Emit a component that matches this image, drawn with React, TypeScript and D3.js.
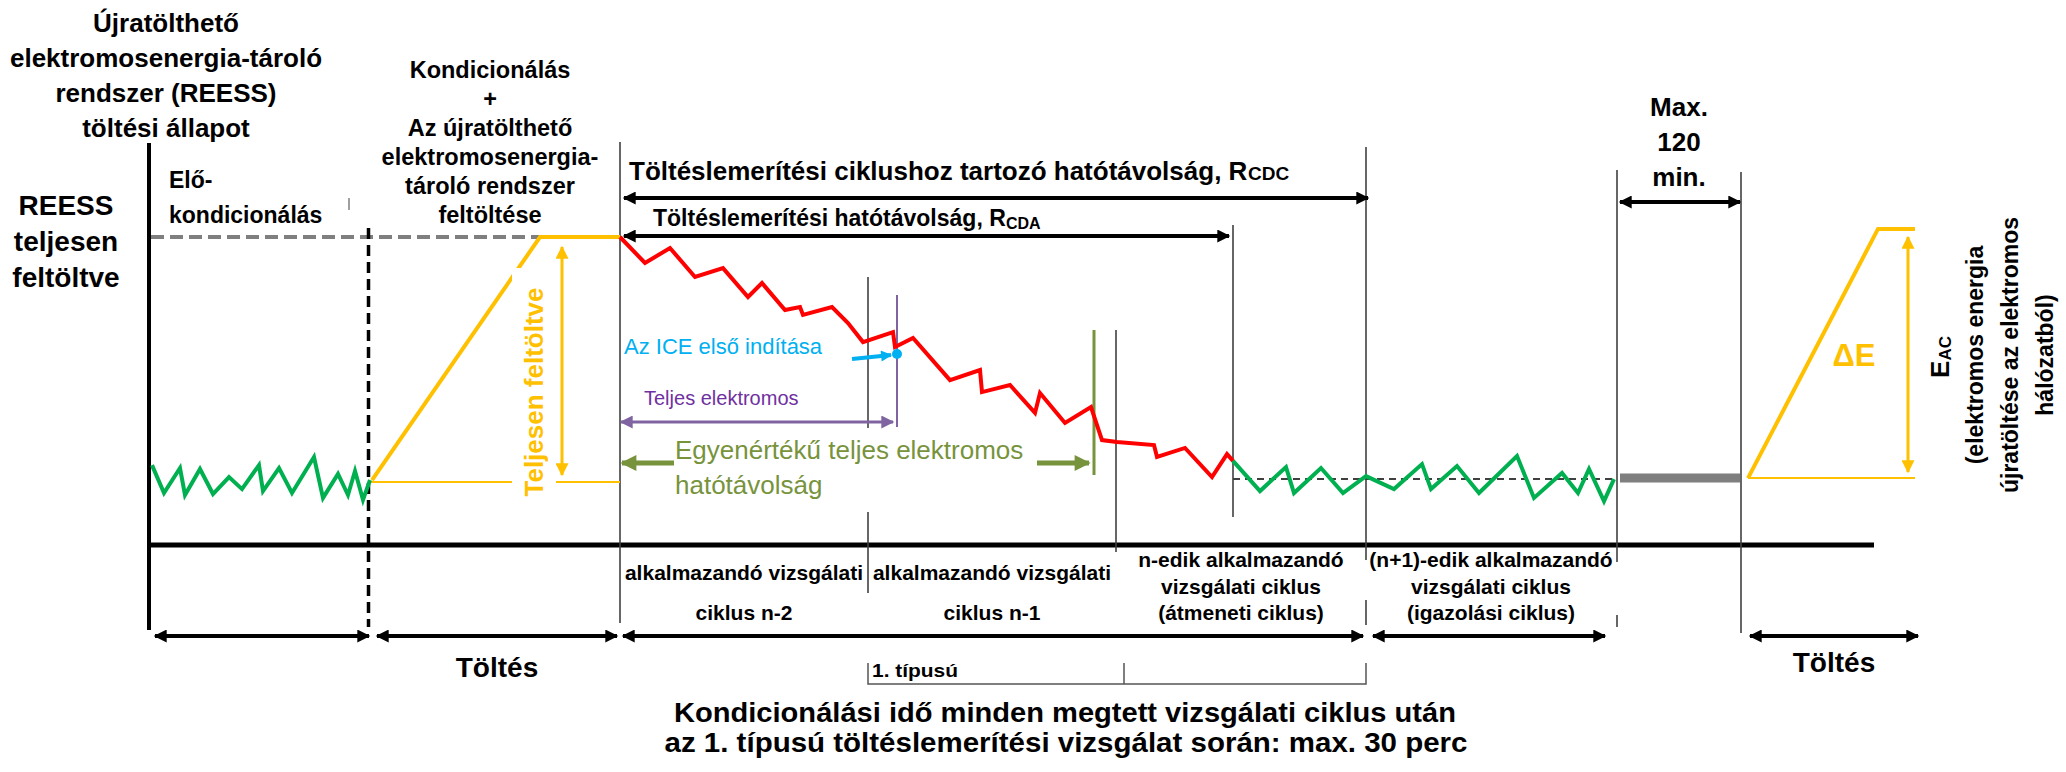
import React from "react";
import * as d3 from "d3";

const W = 2066;
const H = 772;
const FONT = "'Liberation Sans', Arial, Helvetica, sans-serif";

// ---- data: schematic time (x) and state of charge in % (y) ----
const greenPre: [number, number][] = [
  [152, 6.9], [164, -4.5], [180, 5.7], [185, -5.3], [200, 5.3], [213, -4.9], [229, 2.0], [242, -2.9],
  [259, 6.9], [263, -3.7], [279, 5.7], [292, -4.5], [314, 10.2], [323, -6.5], [338, 3.3], [348, -5.3],
  [355, 4.5], [363, -7.3], [370, 0.8],
];
const redCD: [number, number][] = [
  [620, 100], [645, 89.4], [670, 95.5], [695, 83.7], [723, 87.3], [748, 75.5], [762, 81.2], [785, 70.2],
  [800, 71.4], [803, 68.2], [832, 71.4], [848, 64.9], [863, 57.1], [893, 61.2], [895, 55.1], [913, 58.8],
  [950, 41.6], [980, 45.7], [982, 36.7], [1010, 39.6], [1035, 28.2], [1040, 36.3], [1065, 24.1],
  [1091, 30.6], [1102, 17.1], [1117, 16.3], [1154, 15.1], [1157, 10.2], [1185, 13.9], [1212, 2.0],
  [1227, 11.4], [1233, 8.6],
];
const greenCS: [number, number][] = [
  [1233, 8.6], [1260, -3.7], [1286, 6.1], [1294, -4.5], [1321, 5.7], [1343, -4.5], [1366, 2.4],
  [1394, -2.9], [1422, 7.3], [1431, -2.9], [1457, 6.5], [1479, -4.5], [1517, 10.6], [1534, -6.5],
  [1562, 3.7], [1578, -4.5], [1589, 5.3], [1604, -7.8], [1614, 1.2],
];
const chargeLeft: [number, number][] = [[372, 0.8], [540, 100], [620, 100]];
const chargeRight: [number, number][] = [[1748, 1.6], [1878, 103.3], [1915, 103.3]];

// ---- texts ----
const titleLines = ["Újratölthető", "elektromosenergia-tároló", "rendszer (REESS)", "töltési állapot"];
const reessLines = ["REESS", "teljesen", "feltöltve"];
const preLines = ["Elő-", "kondicionálás"];
const condLines = ["Kondicionálás", "+", "Az újratölthető", "elektromosenergia-", "tároló rendszer", "feltöltése"];
const maxLines = ["Max.", "120", "min."];
const eacLines = ["(elektromos energia", "újratöltése az elektromos", "hálózatból)"];
const cycleCols = [
  { lines: ["alkalmazandó vizsgálati", "ciklus n-2"] },
  { lines: ["alkalmazandó vizsgálati", "ciklus n-1"] },
  { lines: ["n-edik alkalmazandó", "vizsgálati ciklus", "(átmeneti ciklus)"] },
  { lines: ["(n+1)-edik alkalmazandó", "vizsgálati ciklus", "(igazolási ciklus)"] },
];
const bottomLines = [
  "Kondicionálási idő minden megtett vizsgálati ciklus után",
  "az 1. típusú töltéslemerítési vizsgálat során: max. 30 perc",
];

const C = {
  red: "#FF0000",
  green: "#00B050",
  orange: "#FFC000",
  gray: "#7F7F7F",
  line: "#404040",
  purple: "#8064A2",
  purpleText: "#7030A0",
  olive: "#77933C",
  cyan: "#00B0F0",
};

const x = d3.scaleLinear().domain([0, W]).range([0, W]);
const y = d3.scaleLinear().domain([0, 100]).range([482, 237]);
const line = d3
  .line<[number, number]>()
  .x((d) => x(d[0]))
  .y((d) => y(d[1]))
  .curve(d3.curveLinear);

function Marker({ id, color, w, h }: { id: string; color: string; w: number; h: number }) {
  return (
    <marker
      id={id}
      viewBox="0 0 10 10"
      refX={9}
      refY={5}
      markerUnits="userSpaceOnUse"
      markerWidth={w}
      markerHeight={h}
      orient="auto-start-reverse"
    >
      <path d="M0,0 L10,5 L0,10 z" fill={color} />
    </marker>
  );
}

function Arrow({
  x1, y1, x2, y2, color = "#000", width = 4, marker = "ab", start = true, end = true,
}: any) {
  return (
    <line
      x1={x1}
      y1={y1}
      x2={x2}
      y2={y2}
      stroke={color}
      strokeWidth={width}
      markerStart={start ? `url(#${marker})` : undefined}
      markerEnd={end ? `url(#${marker})` : undefined}
    />
  );
}

function VLine({ xv, y1, y2, color = C.line, width = 1.6 }: any) {
  return <line x1={xv} x2={xv} y1={y1} y2={y2} stroke={color} strokeWidth={width} />;
}

function Lines({
  lines, cx, y0, dy, size, weight = "bold", fill = "#000", anchor = "middle",
}: any) {
  return (
    <g>
      {lines.map((t: string, i: number) => (
        <text
          key={i}
          x={cx}
          y={y0 + i * dy}
          fontSize={size}
          fontWeight={weight}
          fill={fill}
          textAnchor={anchor}
          fontFamily={FONT}
        >
          {t}
        </text>
      ))}
    </g>
  );
}

export default function App() {
  return (
    <svg
      width={W}
      height={H}
      viewBox={`0 0 ${W} ${H}`}
      style={{ position: "absolute", left: 0, top: 0, background: "#fff" }}
      fontFamily={FONT}
    >
      <defs>
        <Marker id="ab" color="#000" w={16} h={13} />
        <Marker id="ao" color={C.orange} w={14} h={13} />
        <Marker id="ap" color={C.purple} w={16} h={13} />
        <Marker id="ag" color={C.olive} w={18} h={16} />
        <Marker id="ac" color={C.cyan} w={12} h={11} />
      </defs>
      <rect width={W} height={H} fill="#fff" />

      {/* Top-left title */}
      <Lines lines={titleLines} cx={166} y0={32} dy={35} size={26} />
      <Lines lines={reessLines} cx={66} y0={215} dy={36} size={28} />
      <Lines lines={preLines} cx={169} y0={188} dy={35} size={23} anchor="start" />
      <Lines lines={condLines} cx={490} y0={78} dy={29} size={23.5} />
      <Lines lines={maxLines} cx={1679} y0={116} dy={35} size={26} />

      {/* axes */}
      <line x1={149} x2={149} y1={143} y2={630} stroke="#000" strokeWidth={4} />
      <line x1={147} x2={1874} y1={545} y2={545} stroke="#000" strokeWidth={5} />
      <line x1={349} x2={349} y1={198} y2={210} stroke={C.gray} strokeWidth={1.5} />

      {/* full charge reference */}
      <line x1={x(151)} x2={x(540)} y1={y(100)} y2={y(100)} stroke={C.gray} strokeWidth={4} strokeDasharray="13 6" />
      <line x1={368.5} x2={368.5} y1={228} y2={627} stroke="#000" strokeWidth={3.5} strokeDasharray="11 6" />

      {/* vertical separators */}
      <VLine xv={620} y1={142} y2={623} />
      <VLine xv={868} y1={277} y2={428} />
      <VLine xv={868} y1={512} y2={593} />
      <VLine xv={1116} y1={330} y2={552} />
      <VLine xv={1233} y1={225} y2={517} />
      <VLine xv={1366} y1={147} y2={560} />
      <VLine xv={1366} y1={600} y2={625} />
      <VLine xv={1617} y1={170} y2={562} />
      <VLine xv={1617} y1={615} y2={627} />
      <VLine xv={1741} y1={172} y2={633} />
      <VLine xv={897} y1={295} y2={427} color={C.purple} width={2} />
      <VLine xv={1094} y1={330} y2={475} color={C.olive} width={3} />

      {/* charge profile curves */}
      <line x1={x(370)} x2={x(620)} y1={y(0)} y2={y(0)} stroke={C.orange} strokeWidth={2} />
      <path d={line(chargeLeft) || ""} fill="none" stroke={C.orange} strokeWidth={4} />
      <path d={line(greenPre) || ""} fill="none" stroke={C.green} strokeWidth={4} />
      <path d={line(redCD) || ""} fill="none" stroke={C.red} strokeWidth={4} />
      <line x1={x(1233)} x2={x(1614)} y1={y(1.2)} y2={y(1.2)} stroke="#404040" strokeWidth={2} strokeDasharray="7 5" />
      <path d={line(greenCS) || ""} fill="none" stroke={C.green} strokeWidth={4} />
      <line x1={x(1620)} x2={x(1740)} y1={y(1.6)} y2={y(1.6)} stroke={C.gray} strokeWidth={9} />
      <line x1={x(1748)} x2={x(1915)} y1={y(1.6)} y2={y(1.6)} stroke={C.orange} strokeWidth={2} />
      <path d={line(chargeRight) || ""} fill="none" stroke={C.orange} strokeWidth={4} />

      {/* orange "Teljesen feltöltve" */}
      <rect x={512} y={268} width={44} height={237} fill="#fff" />
      <Arrow x1={562} y1={247} x2={562} y2={475} color={C.orange} width={3} marker="ao" />
      <text
        transform="translate(534,392) rotate(-90)"
        textAnchor="middle"
        dominantBaseline="central"
        fontSize={26}
        fontWeight="bold"
        fill={C.orange}
      >
        Teljesen feltöltve
      </text>

      {/* right charge */}
      <Arrow x1={1908} y1={237} x2={1908} y2={472} color={C.orange} width={3} marker="ao" />
      <text x={1854} y={366} textAnchor="middle" fontSize={31} fontWeight="bold" fill={C.orange}>
        ΔE
      </text>
      <text transform="translate(1940,357) rotate(-90)" textAnchor="middle" dominantBaseline="central" fontSize={26} fontWeight="bold">
        E<tspan fontSize={17} dy={5}>AC</tspan>
      </text>
      {eacLines.map((t, i) => (
        <text
          key={i}
          transform={`translate(${1975 + i * 35},355) rotate(-90)`}
          textAnchor="middle"
          dominantBaseline="central"
          fontSize={23}
          fontWeight="bold"
        >
          {t}
        </text>
      ))}

      {/* range arrows and labels */}
      <text x={629} y={180} fontSize={26} fontWeight="bold">
        Töltéslemerítési ciklushoz tartozó hatótávolság, R
      </text>
      <text x={1248} y={180} fontSize={19} fontWeight="bold">CDC</text>
      <Arrow x1={624} y1={198} x2={1368} y2={198} />
      <text x={653} y={226} fontSize={23} fontWeight="bold">
        Töltéslemerítési hatótávolság, R
      </text>
      <text x={1006} y={229} fontSize={16} fontWeight="bold">CDA</text>
      <Arrow x1={624} y1={236} x2={1229} y2={236} />
      <Arrow x1={1620} y1={202} x2={1740} y2={202} />

      {/* ICE start */}
      <text x={624} y={354} fontSize={22} fill={C.cyan}>
        Az ICE első indítása
      </text>
      <Arrow x1={852} y1={359} x2={891} y2={355} color={C.cyan} width={4} marker="ac" start={false} />
      <circle cx={897} cy={354} r={5} fill={C.cyan} />

      {/* all electric */}
      <text x={644} y={405} fontSize={20} fill={C.purpleText}>
        Teljes elektromos
      </text>
      <Arrow x1={621} y1={422} x2={893} y2={422} color={C.purple} width={3} marker="ap" />

      {/* equivalent all electric range */}
      <text x={675} y={459} fontSize={26} fill={C.olive}>
        Egyenértékű teljes elektromos
      </text>
      <text x={675} y={494} fontSize={26} fill={C.olive}>
        hatótávolság
      </text>
      <Arrow x1={674} y1={463} x2={622} y2={463} color={C.olive} width={5} marker="ag" start={false} />
      <Arrow x1={1037} y1={463} x2={1089} y2={463} color={C.olive} width={5} marker="ag" start={false} />

      {/* cycle labels */}
      <Lines lines={cycleCols[0].lines} cx={744} y0={580} dy={40} size={21} />
      <Lines lines={cycleCols[1].lines} cx={992} y0={580} dy={40} size={21} />
      <Lines lines={cycleCols[2].lines} cx={1241} y0={567} dy={26.5} size={21} />
      <Lines lines={cycleCols[3].lines} cx={1491} y0={567} dy={26.5} size={21} />

      {/* bottom arrows */}
      <Arrow x1={155} y1={636} x2={369} y2={636} />
      <Arrow x1={377} y1={636} x2={617} y2={636} />
      <Arrow x1={623} y1={636} x2={1363} y2={636} />
      <Arrow x1={1373} y1={636} x2={1605} y2={636} />
      <Arrow x1={1750} y1={636} x2={1918} y2={636} />
      <text x={497} y={677} textAnchor="middle" fontSize={28} fontWeight="bold">Töltés</text>
      <text x={1834} y={672} textAnchor="middle" fontSize={28} fontWeight="bold">Töltés</text>

      {/* type 1 bracket */}
      <path d="M868,663 V684 H1366 V663 M1124,663 V684" fill="none" stroke="#555" strokeWidth={1.5} />
      <text x={872} y={677} fontSize={19} fontWeight="bold" textLength={86} lengthAdjust="spacingAndGlyphs">
        1. típusú
      </text>

      <text x={1065} y={722} textAnchor="middle" fontSize={27} fontWeight="bold" textLength={782} lengthAdjust="spacingAndGlyphs">
        {bottomLines[0]}
      </text>
      <text x={1066} y={752} textAnchor="middle" fontSize={27} fontWeight="bold" textLength={803} lengthAdjust="spacingAndGlyphs">
        {bottomLines[1]}
      </text>
    </svg>
  );
}
